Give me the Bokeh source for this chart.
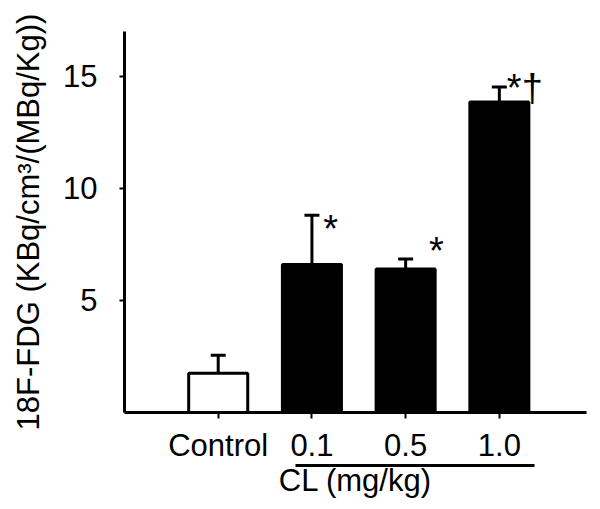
from bokeh.plotting import figure
from bokeh.models import Range1d, FixedTicker, LinearAxis, ColumnDataSource
from bokeh.core.properties import value
from bokeh.embed import file_html
from bokeh.resources import INLINE

# ---- data ----
categories = ["Control", "0.1", "0.5", "1.0"]
means = [1.75, 6.6, 6.4, 13.85]
errors = [0.8, 2.2, 0.45, 0.67]
bar_fill = ["white", "black", "black", "black"]
sig_labels = ["", "*", "*", "*\u2020"]
sig_y = [0.0, 8.17, 7.2, 14.5]
sig_dx = [0.0, 0.12, 0.25, 0.08]
y_ticks = [5, 10, 15]
group_label = "CL (mg/kg)"
y_label = "18F-FDG (KBq/cm\u00b3/(MBq/Kg))"

FONT = "Liberation Sans"
FS = "31px"

xs = list(range(1, len(categories) + 1))
tops = [m + e for m, e in zip(means, errors)]

p = figure(width=592, height=501, output_backend="svg", toolbar_location=None,
           x_range=Range1d(0, 4.93), y_range=Range1d(0, 17),
           min_border_left=124, min_border_right=6, min_border_top=31, min_border_bottom=89)
p.outline_line_color = None
p.xgrid.visible = False
p.ygrid.visible = False
p.background_fill_color = "white"
p.border_fill_color = "white"

src = ColumnDataSource(dict(x=xs, top=means, fill=bar_fill, err_top=tops))
p.vbar(x="x", top="top", bottom=0, width=0.63, source=src,
       fill_color="fill", line_color="black", line_width=3)
p.segment(x0="x", y0="top", x1="x", y1="err_top", source=src, line_color="black", line_width=3)
cap = 0.08
p.segment(x0=[x - cap for x in xs], y0=tops, x1=[x + cap for x in xs], y1=tops,
          line_color="black", line_width=3)

sig_src = ColumnDataSource(dict(x=[x + d for x, d in zip(xs, sig_dx)], y=sig_y, t=sig_labels))
p.text(x="x", y="y", text="t", source=sig_src, text_font=value(FONT),
       text_font_size="38px", text_align="left", text_baseline="middle", text_color="black")

# y axis
ya = p.yaxis[0]
ya.ticker = FixedTicker(ticks=y_ticks)
ya.axis_label = y_label
ya.axis_label_text_font = FONT
ya.axis_label_text_font_size = FS
ya.axis_label_text_font_style = "normal"
ya.axis_label_text_color = "black"
ya.axis_label_standoff = 14
ya.major_label_text_font = FONT
ya.major_label_text_font_size = FS
ya.major_label_text_color = "black"
ya.major_label_standoff = 22
ya.axis_line_width = 3
ya.axis_line_color = "black"
ya.major_tick_line_width = 2
ya.major_tick_out = 5
ya.major_tick_in = 0
ya.minor_tick_line_color = None

# x axis
xa = p.xaxis[0]
xa.ticker = FixedTicker(ticks=xs)
xa.major_label_overrides = {x: c for x, c in zip(xs, categories)}
xa.major_label_text_font = FONT
xa.major_label_text_font_size = FS
xa.major_label_text_color = "black"
xa.major_label_standoff = 9
xa.axis_line_width = 3
xa.axis_line_color = "black"
xa.major_tick_line_width = 2
xa.major_tick_out = 6
xa.major_tick_in = 0
xa.minor_tick_line_color = None

# group axis (underline + label)
ga = LinearAxis(bounds=(1.82, 4.37), ticker=FixedTicker(ticks=[]))
ga.axis_label = group_label
ga.axis_label_text_font = FONT
ga.axis_label_text_font_size = FS
ga.axis_label_text_font_style = "normal"
ga.axis_label_text_color = "black"
ga.axis_label_standoff = -3
ga.axis_line_width = 3
ga.axis_line_color = "black"
ga.major_tick_line_color = None
ga.minor_tick_line_color = None
ga.major_label_text_font_size = "0px"
p.add_layout(ga, "below")

open("out.html", "w").write(file_html(p, INLINE))
